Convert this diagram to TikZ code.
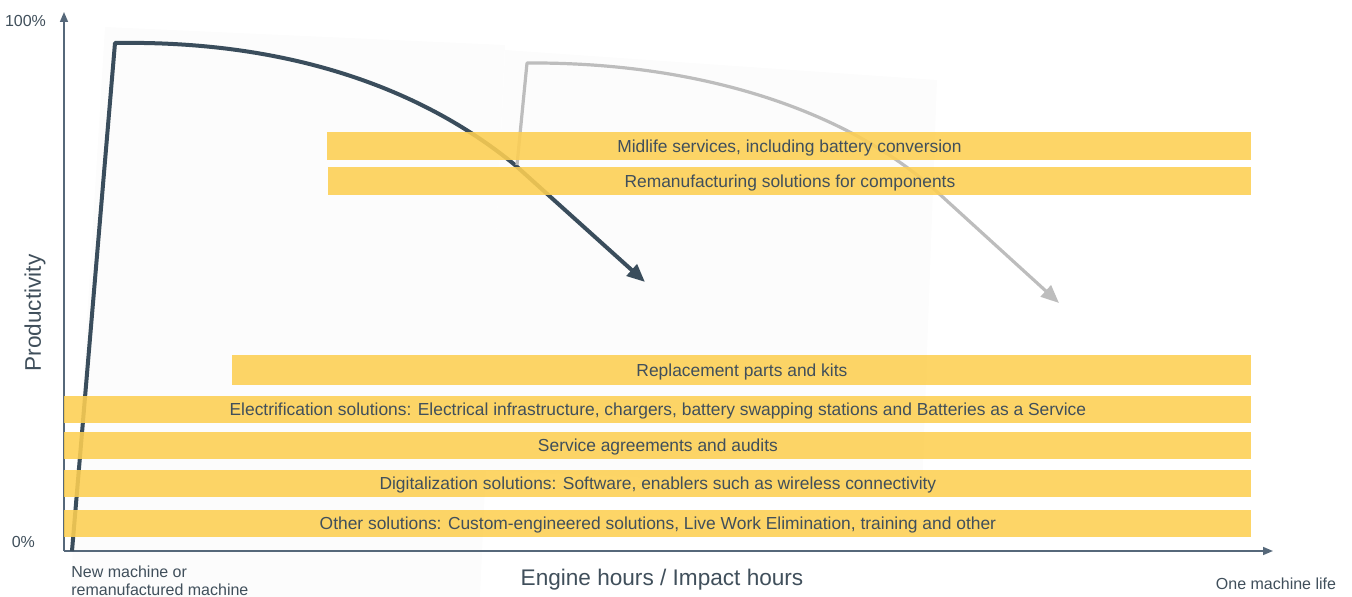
\documentclass[tikz,border=0pt]{standalone}
\usepackage{fontspec}
\setmainfont{Liberation Sans}
\usetikzlibrary{arrows.meta}

\definecolor{txtgray}{HTML}{404F5B}
\definecolor{axisgray}{HTML}{56687A}
\definecolor{curvedark}{HTML}{3A4D5C}
\definecolor{curvelight}{HTML}{BDBDBD}
\definecolor{baryellow}{HTML}{FDCF52}

\begin{document}
\begin{tikzpicture}
[
	x=0.5pt, y=-0.5pt,
	axis/.style={axisgray,line width=0.8pt,-{Triangle[length=5pt,width=4pt]}},
	lifecurve/.style={line width=2pt,line join=round,-{Triangle[length=9pt,width=7.5pt]}},
	bar/.style={fill=baryellow,fill opacity=0.88,text opacity=1,text=txtgray,
		inner sep=0pt,minimum height=14pt,anchor=west,text height=6.5pt,text depth=0pt,
		font=\fontsize{8.7}{10}\selectfont},
	small/.style={text=txtgray,font=\fontsize{8}{8.6}\selectfont},
	big/.style={text=txtgray,font=\fontsize{11.3}{13}\selectfont},
]

	\useasboundingbox (0,0) rectangle (1352,597);

	% faint backgrounds
	\fill[black!1.2] (105,27) -- (505,45) -- (480,597) -- (70,597) -- cycle;
	\fill[black!1.2] (505,50) -- (937,80) -- (922,490) -- (485,470) -- cycle;

	% axes
	\coordinate (orig) at (64,551);
	\coordinate (ytip) at (64,12);
	\coordinate (xtip) at (1273,551);
	\draw[axis] (orig) -- (ytip);
	\draw[axis] (orig) -- (xtip);

	\node[small,anchor=east] (top) at (53,21) {100\%};
	\node[small,anchor=east] (bot) at (42,542) {0\%};
	\node[big,rotate=90] (prod) at (35,313) {Productivity};
	\node[big] (hours) at (662,580) {Engine hours / Impact hours};
	\node[small,anchor=north west,align=left,inner sep=0pt] (newm) at (71,566)
		{New machine or\\remanufactured machine};
	\node[small] (life) at (1276,584) {One machine life};

	% first machine life
	\coordinate (a0) at (72,551);
	\coordinate (a1) at (115,43);
	\coordinate (a2) at (515,165);
	\coordinate (a3) at (645,282);
	\draw[lifecurve,curvedark] (a0) -- (a1) .. controls (300,40) and (430,95) .. (a2) -- (a3);

	% second machine life
	\coordinate (b0) at (517,165);
	\coordinate (b1) at (527,63);
	\coordinate (b2) at (935,190);
	\coordinate (b3) at (1059,303);
	\draw[lifecurve,curvelight,line width=1.6pt] (b0) -- (b1) .. controls (700,62) and (845,110) .. (b2) -- (b3);

	% solutions
	\node[bar,minimum width=462pt] (midlife) at (327,146) {Midlife services, including battery conversion};
	\node[bar,minimum width=461.5pt] (reman) at (328,181) {Remanufacturing solutions for components};
	\node[bar,minimum width=509.5pt,minimum height=15pt] (parts) at (232,370) {Replacement parts and kits};
	\node[bar,minimum width=593.5pt,minimum height=13.5pt] (electr) at (64,409.5) {Electrification solutions: Electrical infrastructure, chargers, battery swapping stations and Batteries as a Service};
	\node[bar,minimum width=593.5pt,minimum height=13.5pt] (service) at (64,445.5) {Service agreements and audits};
	\node[bar,minimum width=593.5pt,minimum height=13.5pt] (digital) at (64,483.5) {Digitalization solutions: Software, enablers such as wireless connectivity};
	\node[bar,minimum width=593.5pt,minimum height=13.5pt] (other) at (64,523.5) {Other solutions: Custom-engineered solutions, Live Work Elimination, training and other};

\end{tikzpicture}
\end{document}
